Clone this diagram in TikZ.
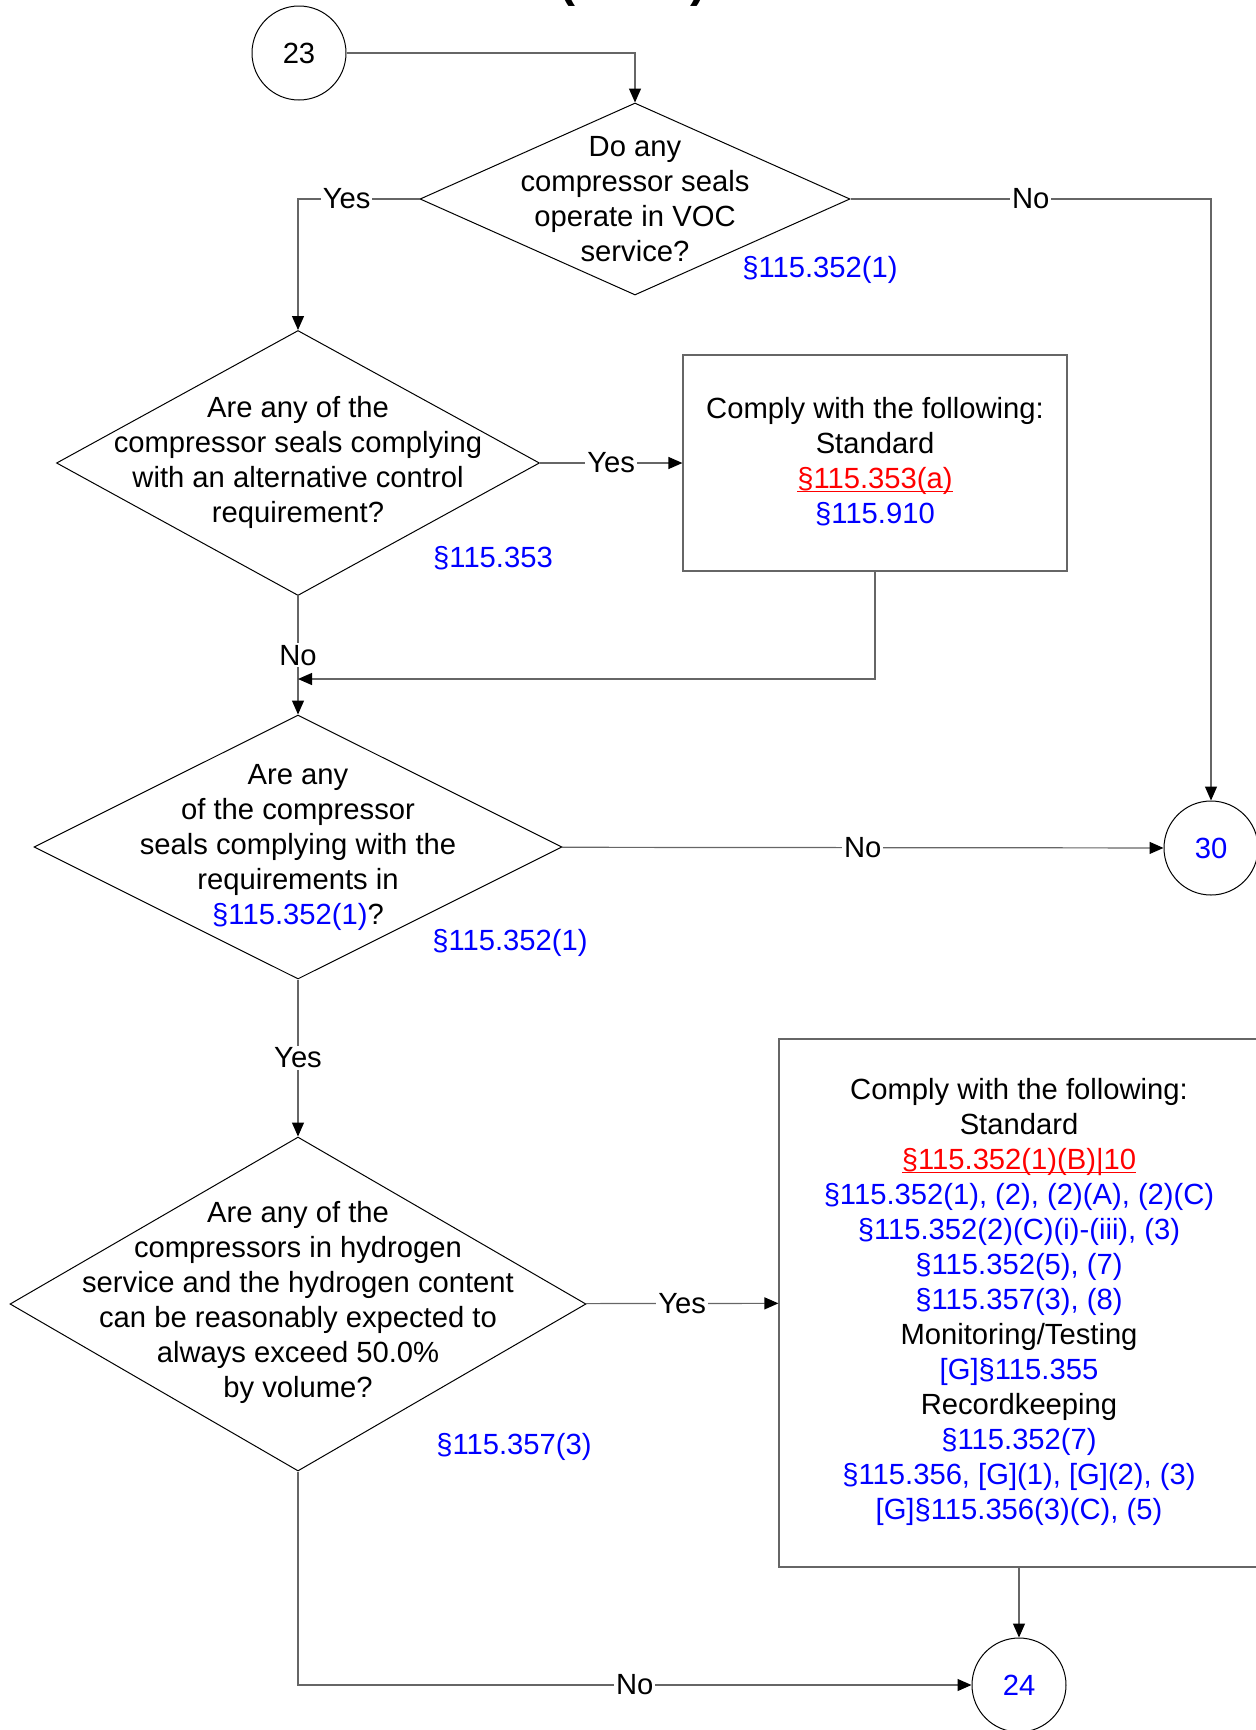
\documentclass[tikz,border=0pt]{standalone}
\usepackage{fontspec}
\setmainfont{Liberation Sans}
\usepackage{tikz}
\usetikzlibrary{arrows.meta}
\usetikzlibrary{shapes.geometric}

% red, underlined reference
\newcommand{\redref}[1]{{\color{red}\setbox0\hbox{#1}\rlap{\rule[-1.6pt]{\wd0}{0.6pt}}\box0}}

\begin{document}
\begin{tikzpicture}[x=0.5pt, y=-0.5pt, font=\fontsize{14.6}{17.5}\selectfont,
    conn/.style={draw=black!60, line width=0.6pt},
    arr/.style={conn, -{Triangle[length=7pt, width=6pt, color=black]}},
    lbl/.style={fill=white, inner sep=1pt},
    ref/.style={text=blue},
    dia/.style={draw, shape=diamond, inner sep=0pt, line width=0.5pt},
    txt/.style={align=center, inner sep=0pt},
    box/.style={draw=black!60, line width=0.6pt, inner sep=0pt},
    circ/.style={draw, circle, minimum size=47pt, inner sep=0pt, line width=0.5pt}]
\useasboundingbox (0,0) rectangle (1256,1730);
\begin{scope}
    % title, cut off at the top
    \node[anchor=base, font=\fontsize{24}{28}\selectfont\bfseries] (T) at (633,-4) {(cont.)};

    \node[circ] (A) at (299,53) {23};
    \node[circ, text=blue] (Z) at (1211,848) {30};
    \node[circ, text=blue] (Y) at (1019,1685) {24};

    \node[dia, minimum width=215pt, minimum height=96pt] (B) at (635,199) {};
    \node[txt] (Bt) at (635,199) {Do any\\compressor seals\\operate in VOC\\service?};
    \node[ref] (Br) at (820,270) {§115.352(1)};

    \node[dia, minimum width=241.5pt, minimum height=132.5pt] (C) at (298,463) {};
    \node[txt] (Ct) at (298,462) {Are any of the\\compressor seals complying\\with an alternative control\\requirement?};
    \node[ref] (Cr) at (493,558) {§115.353};

    \node[box, minimum width=192pt, minimum height=108pt] (E) at (875,463) {};
    \node[txt] (Et) at (875,462) {Comply with the following:\\Standard\\
        \redref{§115.353(a)}\\{\color{blue}§115.910}};

    \node[dia, minimum width=264pt, minimum height=132pt] (D) at (298,847) {};
    \node[txt] (Dt) at (298,847) {Are any\\of the compressor\\seals complying with the\\requirements in\\
        {\color{blue}§115.352(1)}?};
    \node[ref] (Dr) at (510,943) {§115.352(1)};

    \node[dia, minimum width=288pt, minimum height=167pt] (F) at (298,1304) {};
    \node[txt] (Ft) at (298,1302) {Are any of the\\compressors in hydrogen\\service and the hydrogen content\\
        can be reasonably expected to\\always exceed 50.0\%\\by volume?};
    \node[ref] (Fr) at (514,1447) {§115.357(3)};

    \node[box, minimum width=240pt, minimum height=264pt] (G) at (1019,1303) {};
    \node[txt] (Gt) at (1019,1302) {Comply with the following:\\Standard\\
        \redref{§115.352(1)(B)|10}\\
        {\color{blue}§115.352(1), (2), (2)(A), (2)(C)}\\
        {\color{blue}§115.352(2)(C)(i)-(iii), (3)}\\
        {\color{blue}§115.352(5), (7)}\\
        {\color{blue}§115.357(3), (8)}\\
        Monitoring/Testing\\
        {\color{blue}[G]§115.355}\\
        Recordkeeping\\
        {\color{blue}§115.352(7)}\\
        {\color{blue}§115.356, [G](1), [G](2), (3)}\\
        {\color{blue}[G]§115.356(3)(C), (5)}};

    \coordinate (M) at (298,679);

    \draw [arr] (A) -| (B);
    \draw [arr] (B) -| (C) node[lbl, pos=0.3] {Yes};
    \draw [arr] (B) -| (Z) node[lbl, pos=0.25] {No};
    \draw [arr] (C) -- (E) node[lbl, midway] {Yes};
    \draw [arr] (C) -- (D) node[lbl, midway] {No};
    \draw [arr] (E) |- (M);
    \draw [arr] (D) -- (Z) node[lbl, midway] {No};
    \draw [arr] (D) -- (F) node[lbl, midway] {Yes};
    \draw [arr] (F) -- (G) node[lbl, midway] {Yes};
    \draw [arr] (G) -- (Y);
    \draw [arr] (F) |- (Y) node[lbl, pos=0.75] {No};
\end{scope}
\end{tikzpicture}
\end{document}
